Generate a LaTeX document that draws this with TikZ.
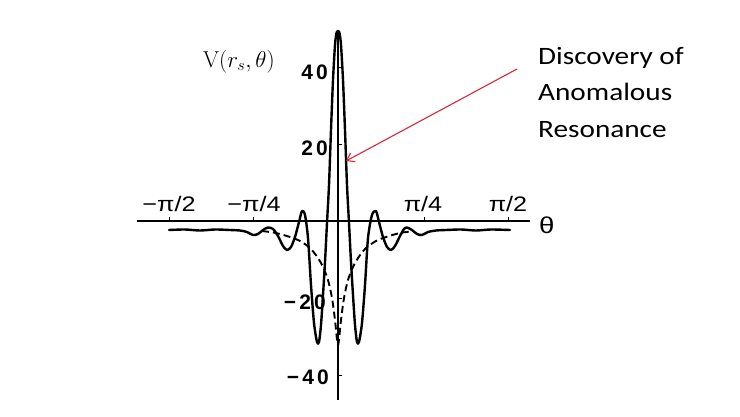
\RequirePackage{fix-cm}
\documentclass[tikz,border=0pt]{standalone}
\usepackage{fontspec}
\usetikzlibrary{arrows.meta}
\newfontfamily\calfont[FakeStretch=1.17]{Carlito}
\newfontfamily\axfont[FakeStretch=1.2]{Liberation Sans}
\newfontfamily\numfont[LetterSpace=15]{Liberation Sans}
\definecolor{annred}{RGB}{215,40,60}
\tikzset{
  axisline/.style={line width=1.8pt, black},
  vaxis/.style={line width=1.3pt, black},
  solidcurve/.style={line width=2.4pt, black, line join=round, line cap=round},
  dashcurve/.style={line width=1.9pt, black, dash pattern=on 7pt off 4pt},
  tickmark/.style={line width=1pt, black},
  ticklab/.style={inner sep=0pt, font=\axfont\fontsize{21}{24}\selectfont},
  numlab/.style={inner sep=0pt, anchor=east, font=\numfont\bfseries\fontsize{21}{24}\selectfont},
  annot/.style={inner sep=0pt, anchor=base west, font=\calfont\fontsize{25}{30}\selectfont},
  redarrow/.style={annred, line width=1.1pt, -{Straight Barb[length=7pt,width=10pt]}}
}
\begin{document}
\begin{tikzpicture}[x=1pt,y=-1pt]
\useasboundingbox (0,0) rectangle (740,416);
\fill[white] (0,0) rectangle (740,416);
% axes
\coordinate (hl) at (137,221);
\coordinate (hr) at (530,221);
\coordinate (vt) at (338,33);
\coordinate (vb) at (338,400);
\draw[axisline] (hl) -- (hr);
\draw[vaxis] (vt) -- (vb);
% ticks on theta axis
\foreach \tx in {169,253,424,508} \draw[tickmark] (\tx,221) -- (\tx,217);
% ticks on V axis
\foreach \ty in {67,144,298,375} \draw[tickmark] (338,\ty) -- (342,\ty);
% dashed curve
\draw[dashcurve] plot[smooth, tension=0.5] coordinates {
 (262,231) (276,233) (290,237) (300,241) (310,248) (318,258) (323,267) (328,280)
 (332,298) (335,320) (338,345)
 (341,320) (344,298) (348,280) (353,267) (358,258) (366,248) (376,241) (386,237)
 (400,233) (414,231)};
% solid curve
\draw[solidcurve] plot[smooth, tension=0.45] coordinates {
 (169,230) (185,229.5) (200,230.5) (215,229.5) (230,230) (240,230.5) (247,232)
 (253,235) (258,234) (263,230) (268,227.5) (273,229) (278,236) (283,246) (287,250)
 (291,247) (295,237) (299,222) (302,211) (305,215) (308,238) (311,285) (314,323)
 (317,342) (319,342) (321,325) (323,295) (325,262) (327,223) (329,185) (331,130)
 (333,80) (335,45) (336.5,33) (338,31)
 (339.5,33) (341,45) (343,80) (345,130) (347,185) (349,223) (351,262) (353,295)
 (355,325) (357,342) (359,342) (362,323) (365,285) (368,238) (372,215) (376,211)
 (379,222) (383,237) (387,247) (391,250) (395,246) (400,236) (404,229) (407,227.5)
 (412,230) (417,234) (422,235) (428,232) (436,230.5) (446,230) (461,229.5)
 (476,230.5) (491,229.5) (510,230)};
% tick labels
\node[ticklab, anchor=base] (lmpi2) at (169,211) {−π/2};
\node[ticklab, anchor=base] (lmpi4) at (254,211) {−π/4};
\node[ticklab, anchor=base] (lpi4) at (423,211) {π/4};
\node[ticklab, anchor=base] (lpi2) at (508,211) {π/2};
\node[inner sep=0pt, anchor=west, font=\axfont\fontsize{23}{26}\selectfont] (ltheta) at (539,225) {θ};
\node[numlab] (l40) at (328,72) {40};
\node[numlab] (l20) at (328,148) {20};
\node[numlab] (lm20) at (326,302) {−20};
\node[numlab] (lm40) at (329,377) {−40};
% V label
\node[inner sep=0pt, anchor=base west, font=\fontsize{23}{28}\selectfont] (vlab) at (203,67) {$\mathrm{V}(r_s,\theta)$};
% annotation
\node[annot] (ann1) at (538,64) {Discovery of};
\node[annot] (ann2) at (538,100) {Anomalous};
\node[annot] (ann3) at (538,137) {Resonance};
\coordinate (arrtail) at (517,69);
\coordinate (arrtip) at (346,161);
\draw[redarrow] (arrtail) -- (arrtip);
\end{tikzpicture}
\end{document}
